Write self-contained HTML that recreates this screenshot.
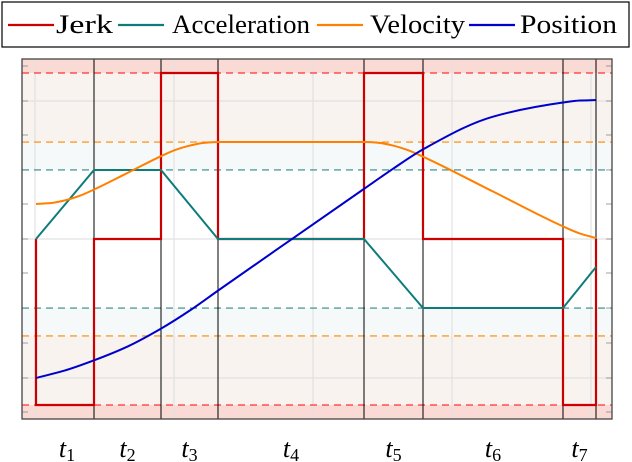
<!DOCTYPE html>
<html><head><meta charset="utf-8"><style>
html,body{margin:0;padding:0;background:#fff;}
svg{display:block;font-family:"Liberation Serif",serif;}
</style></head><body>
<svg id="c" width="632" height="462" viewBox="0 0 632 462" xmlns="http://www.w3.org/2000/svg"></svg>
<script>
const phaseTimes=[0,0.58,1.25,1.82,3.28,3.87,5.27,5.60];
const phaseLabels=["1","2","3","4","5","6","7"];
const jerkLevels=[-1,0,1,0,1,0,-1,0];
const accelValues=[0,0.416,0.416,0,0,-0.416,-0.416,-0.169];
const velTimes=[0,0.14,0.29,0.44,0.58,0.915,1.25,1.39,1.54,1.68,1.82,3.28,3.42,3.57,3.72,3.87,4.57,5.27,5.44,5.60];
const velValues=[0.211,0.216,0.233,0.261,0.298,0.398,0.499,0.536,0.563,0.579,0.584,0.584,0.580,0.563,0.535,0.496,0.286,0.076,0.033,0.006];
const posTimes=[0,0.29,0.58,0.915,1.25,1.54,1.82,2.55,3.28,3.57,3.87,4.57,5.27,5.44,5.60];
const posValues=[-0.837,-0.792,-0.731,-0.648,-0.540,-0.430,-0.311,-0.004,0.302,0.423,0.540,0.737,0.822,0.834,0.837];
const limJerk=1, limAcc=0.416, limVel=0.584;

const X=t=>36+t*100;
const Y=v=>239-v*166;
const L=22,R=612,T=59,B=419;
const svg=document.getElementById('c');
const NS='http://www.w3.org/2000/svg';
function mk(tag,attrs,parent){const e=document.createElementNS(NS,tag);for(const k in attrs)e.setAttribute(k,attrs[k]);(parent||svg).appendChild(e);return e;}

let b;
b=mk('rect',{x:L,y:T,width:R-L,height:Y(limJerk)-T,fill:'#f9dad5'});

b=mk('rect',{x:L,y:Y(limJerk),width:R-L,height:Y(limVel)-Y(limJerk),fill:'#f8f3ee'});

b=mk('rect',{x:L,y:Y(limVel),width:R-L,height:Y(limAcc)-Y(limVel),fill:'#f6f9f9'});

b=mk('rect',{x:L,y:Y(-limAcc),width:R-L,height:Y(-limVel)-Y(-limAcc),fill:'#f6f9f9'});

b=mk('rect',{x:L,y:Y(-limVel),width:R-L,height:Y(-limJerk)-Y(-limVel),fill:'#f8f3ee'});

b=mk('rect',{x:L,y:Y(-limJerk),width:R-L,height:B-Y(-limJerk),fill:'#f9dad5'});


[35,174,313,452,591].forEach(x=>{const g=mk('line',{x1:x,x2:x,y1:T,y2:B,stroke:'#e2e2e2','stroke-width':1.2});
});
[101,239,378].forEach(y=>{const g=mk('line',{x1:L,x2:R,y1:y,y2:y,stroke:'#e2e2e2','stroke-width':1.2});
});
[66,101,135,170,204,239,273,308,343,378,412].forEach(y=>{const g=mk('line',{x1:L,x2:L+6,y1:y,y2:y,stroke:'#888','stroke-width':0.8});

const g2=mk('line',{x1:R-6,x2:R,y1:y,y2:y,stroke:'#888','stroke-width':0.8});
});

[[limJerk,'#ff3333'],[-limJerk,'#ff3333'],[limVel,'#ff8800'],[-limVel,'#ff8800'],[limAcc,'#2a8a8a'],[-limAcc,'#2a8a8a']].forEach(d=>{
const l=mk('line',{x1:L,x2:R,y1:Y(d[0]),y2:Y(d[0]),stroke:d[1],'stroke-width':1.2,'stroke-dasharray':'7,5'});
});

phaseTimes.forEach((t,i)=>{if(i===0)return;const l=mk('line',{x1:X(t),x2:X(t),y1:T,y2:B,stroke:'#000','stroke-width':1});
});

let d='';
for(let i=0;i<phaseTimes.length-1;i++){
  d+=(i===0?'M'+X(phaseTimes[0])+','+Y(0)+' L':' L')+X(phaseTimes[i])+','+Y(jerkLevels[i])+' L'+X(phaseTimes[i+1])+','+Y(jerkLevels[i]);
}
d+=' L'+X(phaseTimes[phaseTimes.length-1])+','+Y(jerkLevels[jerkLevels.length-1]);
let p=mk('path',{d:d,fill:'none',stroke:'#cc0000','stroke-width':2.2});


p=mk('polyline',{points:phaseTimes.map((t,i)=>X(t)+','+Y(accelValues[i])).join(' '),fill:'none',stroke:'#0e7c7b','stroke-width':2});


function smooth(ts,vs){
 const xs=ts.map(X), ys=vs.map(Y), n=xs.length;
 const dl=[],m=new Array(n);
 for(let i=0;i<n-1;i++)dl.push((ys[i+1]-ys[i])/(xs[i+1]-xs[i]));
 m[0]=dl[0];m[n-1]=dl[n-2];
 for(let i=1;i<n-1;i++){ if(dl[i-1]*dl[i]<=0)m[i]=0; else {const w1=2*(xs[i+1]-xs[i])+(xs[i]-xs[i-1]),w2=(xs[i+1]-xs[i])+2*(xs[i]-xs[i-1]);m[i]=(w1+w2)/(w1/dl[i-1]+w2/dl[i]);} }
 let s='M'+xs[0]+','+ys[0];
 for(let i=0;i<n-1;i++){const h=xs[i+1]-xs[i];
  s+=' C'+(xs[i]+h/3)+','+(ys[i]+m[i]*h/3)+' '+(xs[i+1]-h/3)+','+(ys[i+1]-m[i+1]*h/3)+' '+xs[i+1]+','+ys[i+1];}
 return s;}
p=mk('path',{d:smooth(velTimes,velValues),fill:'none',stroke:'#ff8000','stroke-width':2});

p=mk('path',{d:smooth(posTimes,posValues),fill:'none',stroke:'#0000cc','stroke-width':2});


p=mk('rect',{x:L,y:T,width:R-L,height:B-T,fill:'none',stroke:'#444','stroke-width':1.3});


for(let i=0;i<phaseLabels.length;i++){
 const cx=(X(phaseTimes[i])+X(phaseTimes[i+1]))/2;
 const tx=mk('text',{x:(i===0?67:cx),y:457,'text-anchor':'middle','font-size':26,'font-style':'italic',fill:'#000'});
 
 tx.textContent='t';
 const sub=mk('tspan',{'font-size':18,'font-style':'normal',dy:4},tx);sub.textContent=phaseLabels[i];
}

const lg=mk('g',{});

const lr=mk('rect',{x:2,y:2,width:627,height:45,fill:'#fff',stroke:'#000','stroke-width':1.2},lg);

[['Jerk','#cc0000',8,56,57],['Acceleration','#0e7c7b',118,172,138],['Velocity','#ff8000',317,370,95],['Position','#0000cc',469,520,97]].forEach(e=>{
 const gg=mk('g',{},lg);
 mk('line',{x1:e[2],x2:e[2]+46,y1:25,y2:25,stroke:e[1],'stroke-width':2.2},gg);
 const t=mk('text',{x:e[3],y:33,'font-size':26,fill:'#000',textLength:e[4],lengthAdjust:'spacingAndGlyphs'},gg);t.textContent=e[0];
});
</script>
</body></html>
